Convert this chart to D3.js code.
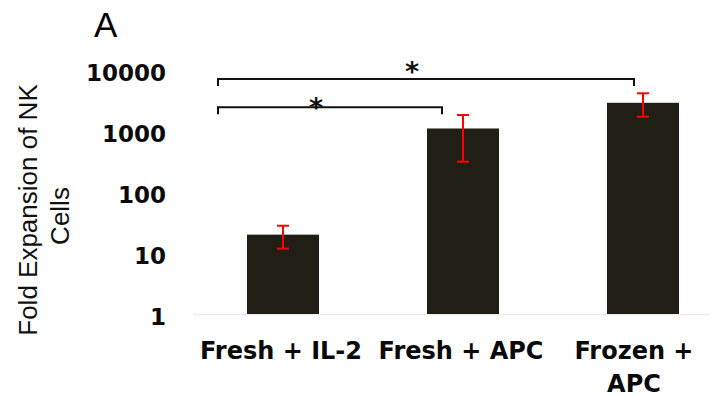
<!DOCTYPE html>
<html>
<head>
<meta charset="utf-8">
<script src="https://cdn.jsdelivr.net/npm/d3@7"></script>
<style>
  body { margin: 0; background: #fff; }
  svg { display: block; }
</style>
</head>
<body>
<div id="chart"></div>
<script>
// data
var groups = ["Fresh + IL-2", "Fresh + APC", "Frozen + APC"];
var groupLines = [["Fresh + IL-2"], ["Fresh + APC"], ["Frozen +", "APC"]];
var foldMean = [20, 1100, 2900];
var errLow = [11.8, 314, 1715];
var errHigh = [28, 1830, 4150];
var yTicks = [1, 10, 100, 1000, 10000];

// significance brackets (from group, to group, bracket level)
var sigFrom = [0, 0];
var sigTo = [2, 1];
var sigLevel = [7100, 2460];

var width = 721, height = 397;

var svg = d3.select("#chart").append("svg")
    .attr("width", width)
    .attr("height", height);

var x = d3.scaleBand()
    .domain(groups)
    .range([193, 733])
    .paddingInner(0.6)
    .paddingOuter(0.3);

var y = d3.scaleLog()
    .domain([1, 10000])
    .range([314, 70]);

// panel letter
svg.append("text")
    .attr("x", 94).attr("y", 37)
    .style("font-family", "Liberation Sans, Arial, sans-serif")
    .style("font-size", "35px")
    .text("A");

// baseline
svg.append("line")
    .attr("x1", 193).attr("x2", 710)
    .attr("y1", y(1) + 0.5).attr("y2", y(1) + 0.5)
    .attr("stroke", "#ececec").attr("stroke-width", 1.5);

// y tick labels
svg.selectAll("text.ytick")
    .data(yTicks)
    .enter().append("text")
    .attr("class", "ytick")
    .attr("x", 166)
    .attr("y", function (d) { return y(d) + 3; })
    .attr("text-anchor", "end")
    .attr("dominant-baseline", "central")
    .style("font-family", "DejaVu Sans, sans-serif")
    .style("font-weight", "bold")
    .style("font-size", "23px")
    .style("fill", "#0a0a0a")
    .text(function (d) { return d; });

// y title
var yt = svg.append("text")
    .attr("transform", "translate(0,210) rotate(-90)")
    .attr("text-anchor", "middle")
    .style("font-family", "Liberation Sans, Arial, sans-serif")
    .style("font-size", "26px")
    .style("fill", "#111");
yt.append("tspan").attr("x", 0).attr("y", 37).text("Fold Expansion of NK");
yt.append("tspan").attr("x", -6).attr("y", 69).text("Cells");

// bars
svg.selectAll("rect.bar")
    .data(groups)
    .enter().append("rect")
    .attr("class", "bar")
    .attr("x", function (d) { return x(d); })
    .attr("width", x.bandwidth())
    .attr("y", function (d, i) { return y(foldMean[i]); })
    .attr("height", function (d, i) { return y(1) - y(foldMean[i]); })
    .attr("fill", "#211f15");

// error bars
var err = svg.selectAll("g.err")
    .data(groups)
    .enter().append("g")
    .attr("class", "err")
    .attr("stroke", "#ff0000")
    .attr("stroke-width", 2);
err.append("line")
    .attr("x1", function (d) { return x(d) + x.bandwidth() / 2; })
    .attr("x2", function (d) { return x(d) + x.bandwidth() / 2; })
    .attr("y1", function (d, i) { return y(errLow[i]); })
    .attr("y2", function (d, i) { return y(errHigh[i]); });
[errLow, errHigh].forEach(function (arr) {
    err.append("line")
        .attr("x1", function (d) { return x(d) + x.bandwidth() / 2 - 6; })
        .attr("x2", function (d) { return x(d) + x.bandwidth() / 2 + 6; })
        .attr("y1", function (d, i) { return y(arr[i]); })
        .attr("y2", function (d, i) { return y(arr[i]); });
});

// x labels
groupLines.forEach(function (lines, i) {
    var cx = x(groups[i]) + x.bandwidth() / 2 + (lines.length > 1 ? -9 : -2);
    var t = svg.append("text")
        .attr("text-anchor", "middle")
        .style("font-family", "DejaVu Sans, sans-serif")
        .style("font-weight", "bold")
        .style("font-size", "24px")
        .style("fill", "#0a0a0a");
    lines.forEach(function (l, j) {
        t.append("tspan").attr("x", cx).attr("y", 359 + j * 33).text(l);
    });
});

// significance brackets
var leftEdge = x(groups[0]) - 29;
var starDy = [1.5, 9.5];
sigFrom.forEach(function (f, i) {
    var by = y(sigLevel[i]);
    var x2 = sigTo[i] === 2 ? x(groups[2]) + x.bandwidth() / 2 - 9
                            : x(groups[1]) + x.bandwidth() / 2 - 21;
    svg.append("path")
        .attr("d", "M" + leftEdge + "," + (by + 7) + "V" + by + "H" + x2 + "V" + (by + 7))
        .attr("fill", "none")
        .attr("stroke", "#111")
        .attr("stroke-width", 2);
    svg.append("text")
        .attr("x", sigTo[i] === 2 ? 412 : 316)
        .attr("y", by + starDy[i])
        .attr("text-anchor", "middle")
        .style("font-family", "DejaVu Sans, sans-serif")
        .style("font-weight", "bold")
        .style("font-size", "27px")
        .style("fill", "#111")
        .text("*");
});
</script>
</body>
</html>
